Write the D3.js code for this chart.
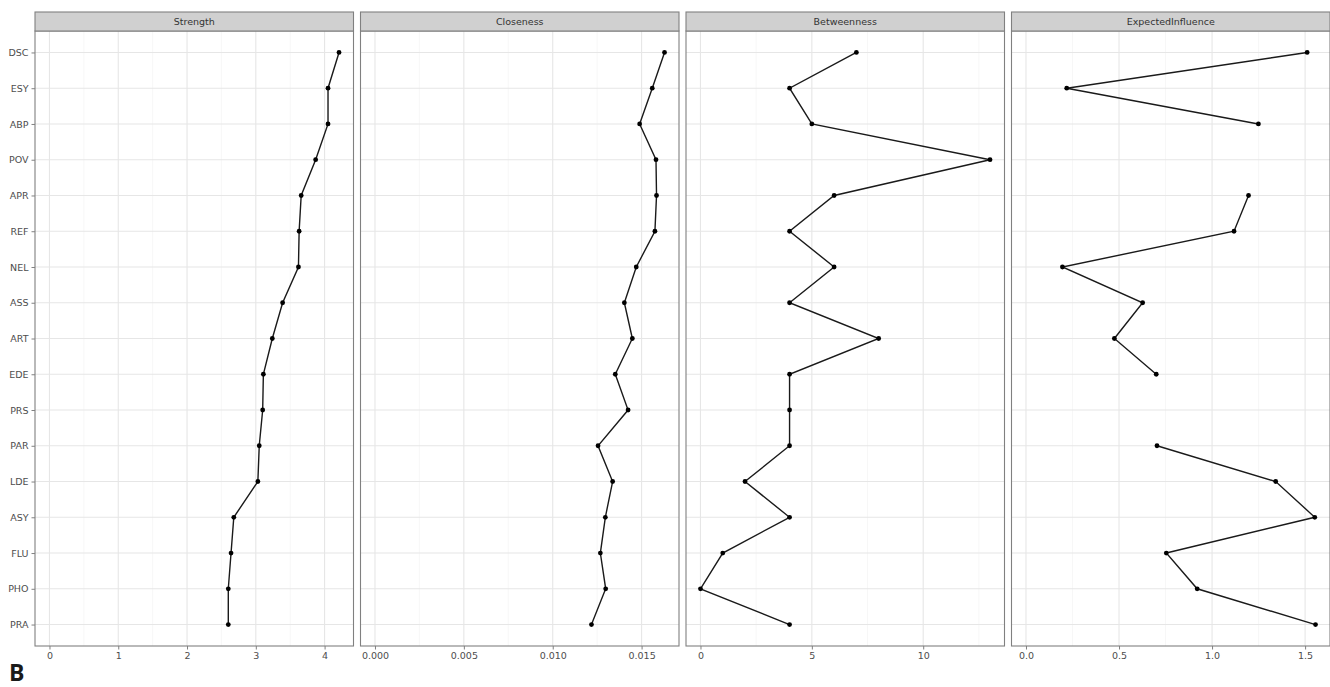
<!DOCTYPE html>
<html lang="en">
<head>
<meta charset="UTF-8">
<title>Centrality plot</title>
<script src="https://cdn.jsdelivr.net/npm/d3@7"></script>
<style>
  body { margin: 0; background: #fff; }
  text { font-family: "DejaVu Sans", sans-serif; }
</style>
</head>
<body>
<script>
// node labels, top to bottom
var nodes = ["DSC", "ESY", "ABP", "POV", "APR", "REF", "NEL", "ASS", "ART", "EDE", "PRS", "PAR", "LDE", "ASY", "FLU", "PHO", "PRA"];

var strength = [4.21, 4.05, 4.05, 3.87, 3.66, 3.63, 3.62, 3.39, 3.24, 3.11, 3.10, 3.05, 3.03, 2.68, 2.64, 2.60, 2.60];
var closeness = [0.01629, 0.01560, 0.01489, 0.01581, 0.01584, 0.01575, 0.01470, 0.01403, 0.01448, 0.01352, 0.01424, 0.01255, 0.01337, 0.01296, 0.01268, 0.01298, 0.01218];
var betweenness = [7, 4, 5, 13, 6, 4, 6, 4, 8, 4, 4, 4, 2, 4, 1, 0, 4];
// POV and PRS have no value shown
var expectedInfluence = [1.511, 0.219, 1.249, null, 1.196, 1.118, 0.196, 0.627, 0.475, 0.700, null, 0.704, 1.342, 1.552, 0.754, 0.920, 1.556];

var panelTitles = ["Strength", "Closeness", "Betweenness", "ExpectedInfluence"];
var strengthTicks = [0, 1, 2, 3, 4];
var closenessTicks = [0, 0.005, 0.010, 0.015];
var betweennessTicks = [0, 5, 10];
var influenceTicks = [0, 0.5, 1.0, 1.5];

drawChart();

function drawChart() {
  var width = 1330, height = 687;
  var plotLeft = 35, plotRight = 1330, gap = 7;
  var stripTop = 12, stripH = 19;
  var panelTop = stripTop + stripH, panelBottom = 646;
  var panelW = (plotRight - plotLeft - 3 * gap) / 4;

  var panels = [
    {title: panelTitles[0], values: strength, ticks: strengthTicks, fmt: d3.format("d")},
    {title: panelTitles[1], values: closeness, ticks: closenessTicks, fmt: d3.format(".3f")},
    {title: panelTitles[2], values: betweenness, ticks: betweennessTicks, fmt: d3.format("d")},
    {title: panelTitles[3], values: expectedInfluence, ticks: influenceTicks, fmt: d3.format(".1f")}
  ];

  var svg = d3.select("body").append("svg")
    .attr("width", width)
    .attr("height", height);

  var y = d3.scalePoint()
    .domain(nodes)
    .range([panelTop, panelBottom])
    .padding(0.6);

  panels.forEach(function (p, i) {
    var x0 = plotLeft + i * (panelW + gap);
    var mx = d3.max(p.values);
    var pad = mx * 0.05;
    var x = d3.scaleLinear()
      .domain([-pad, mx + pad])
      .range([x0, x0 + panelW]);

    var g = svg.append("g");

    // minor grid
    var step = p.ticks[1] - p.ticks[0];
    var minor = [];
    for (var k = -1; k < p.ticks.length; k++) {
      var m = p.ticks[0] + (k + 0.5) * step;
      if (m > x.domain()[0] && m < x.domain()[1]) minor.push(m);
    }
    g.selectAll(".minor").data(minor).enter().append("line")
      .attr("x1", d => x(d)).attr("x2", d => x(d))
      .attr("y1", panelTop).attr("y2", panelBottom)
      .attr("stroke", "#f2f2f2").attr("stroke-width", 0.6);

    // major grid
    g.selectAll(".vmaj").data(p.ticks).enter().append("line")
      .attr("x1", d => x(d)).attr("x2", d => x(d))
      .attr("y1", panelTop).attr("y2", panelBottom)
      .attr("stroke", "#e6e6e6").attr("stroke-width", 1.1);
    g.selectAll(".hmaj").data(nodes).enter().append("line")
      .attr("x1", x0).attr("x2", x0 + panelW)
      .attr("y1", d => y(d)).attr("y2", d => y(d))
      .attr("stroke", "#e6e6e6").attr("stroke-width", 1.1);

    // line with gaps for missing values
    var rows = nodes.map(function (n, j) { return {node: n, v: p.values[j]}; });
    var line = d3.line()
      .defined(d => d.v !== null)
      .x(d => x(d.v))
      .y(d => y(d.node));
    g.append("path")
      .attr("d", line(rows))
      .attr("fill", "none")
      .attr("stroke", "#1a1a1a")
      .attr("stroke-width", 1.4);

    g.selectAll(".pt").data(rows.filter(d => d.v !== null)).enter().append("circle")
      .attr("cx", d => x(d.v))
      .attr("cy", d => y(d.node))
      .attr("r", 2.4)
      .attr("fill", "#000");

    // panel border
    g.append("rect")
      .attr("x", x0).attr("y", panelTop)
      .attr("width", panelW).attr("height", panelBottom - panelTop)
      .attr("fill", "none").attr("stroke", "#808080").attr("stroke-width", 1.1);

    // strip
    g.append("rect")
      .attr("x", x0).attr("y", stripTop)
      .attr("width", panelW).attr("height", stripH)
      .attr("fill", "#d0d0d0").attr("stroke", "#808080").attr("stroke-width", 1.1);
    g.append("text")
      .attr("x", x0 + panelW / 2).attr("y", stripTop + stripH / 2 + 3.5)
      .attr("text-anchor", "middle")
      .attr("font-size", 9.5)
      .attr("fill", "#333")
      .text(p.title);

    // x axis
    var xAxis = d3.axisBottom(x)
      .tickValues(p.ticks)
      .tickFormat(p.fmt)
      .tickSizeInner(3.5)
      .tickSizeOuter(0)
      .tickPadding(3);
    var ax = g.append("g")
      .attr("transform", "translate(0," + panelBottom + ")")
      .call(xAxis);
    ax.select(".domain").remove();
    ax.selectAll("line").attr("stroke", "#808080");
    ax.selectAll("text").attr("fill", "#4d4d4d").attr("font-size", 9.5)
      .style("font-family", "DejaVu Sans, sans-serif");

    if (i === 0) {
      var yAxis = d3.axisLeft(y).tickSizeInner(3.5).tickSizeOuter(0).tickPadding(3);
      var ay = g.append("g")
        .attr("transform", "translate(" + x0 + ",0)")
        .call(yAxis);
      ay.select(".domain").remove();
      ay.selectAll("line").attr("stroke", "#808080");
      ay.selectAll("text").attr("fill", "#4d4d4d").attr("font-size", 9.5)
        .style("font-family", "DejaVu Sans, sans-serif");
    }
  });

  svg.append("text")
    .attr("x", 9).attr("y", 681)
    .attr("font-size", 23)
    .attr("font-weight", "bold")
    .style("font-family", "Open Sans, sans-serif")
    .attr("fill", "#1a1a1a")
    .text("B");
}
</script>
</body>
</html>
